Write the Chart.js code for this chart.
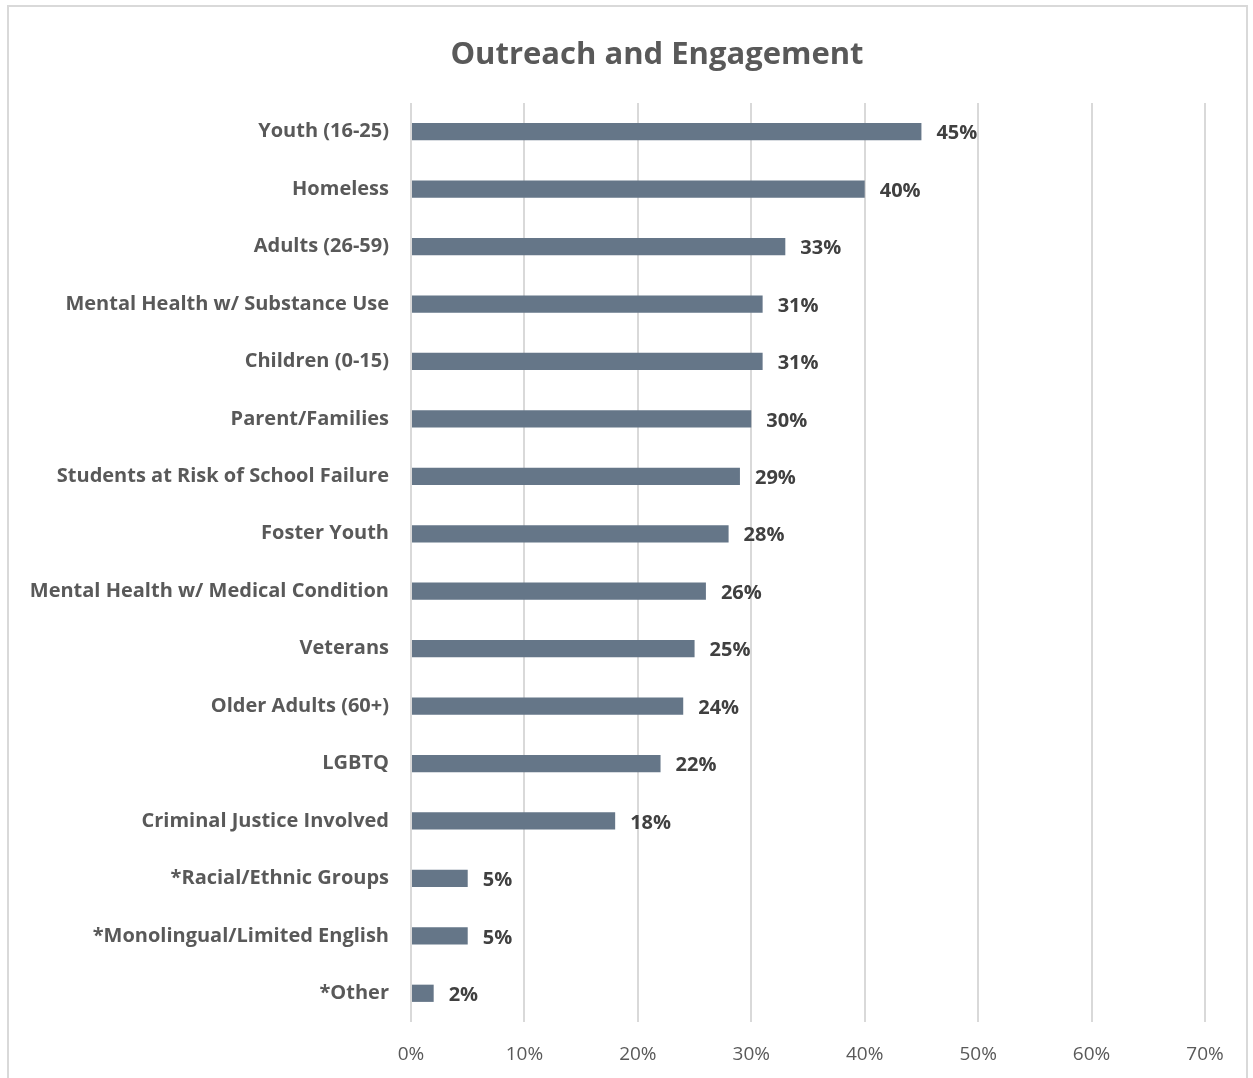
<!DOCTYPE html>
<html>
<head>
<meta charset="utf-8">
<script src="https://cdn.jsdelivr.net/npm/chart.js@4.4.1/dist/chart.umd.min.js"></script>
<style>
  html, body { margin: 0; padding: 0; background: #ffffff; overflow: hidden; }
  #wrap { position: relative; width: 1253px; height: 1078px; }
  #frame { position: absolute; left: 7px; top: 5px; width: 1241px; height: 1100px;
           border: 2px solid #d9d9d9; box-sizing: border-box; }
  canvas { position: absolute; left: 0; top: 0; }
</style>
</head>
<body>
<div id="wrap">
  <div id="frame"></div>
  <canvas id="chart" width="1253" height="1078"></canvas>
</div>
<script>
const chartTitle = 'Outreach and Engagement';
const categories = [
  'Youth (16-25)',
  'Homeless',
  'Adults (26-59)',
  'Mental Health w/ Substance Use',
  'Children (0-15)',
  'Parent/Families',
  'Students at Risk of School Failure',
  'Foster Youth',
  'Mental Health w/ Medical Condition',
  'Veterans',
  'Older Adults (60+)',
  'LGBTQ',
  'Criminal Justice Involved',
  '*Racial/Ethnic Groups',
  '*Monolingual/Limited English',
  '*Other'
];
const percentValues = [45, 40, 33, 31, 31, 30, 29, 28, 26, 25, 24, 22, 18, 5, 5, 2];
const axisTicks = [0, 10, 20, 30, 40, 50, 60, 70];

const FONT = '"Open Sans", Lato, sans-serif';

// Draws the chart heading centred over the plot
const headingPlugin = {
  id: 'heading',
  afterDraw(chart) {
    const ctx = chart.ctx;
    ctx.save();
    ctx.font = 'bold 31px ' + FONT;
    ctx.fillStyle = '#595959';
    ctx.textAlign = 'center';
    ctx.textBaseline = 'middle';
    ctx.fillText(chartTitle, 657, 55);
    ctx.restore();
  }
};

// Writes each bar's percentage just past its end
const valueLabelPlugin = {
  id: 'valueLabels',
  afterDatasetsDraw(chart) {
    const ctx = chart.ctx;
    const meta = chart.getDatasetMeta(0);
    ctx.save();
    ctx.font = 'bold 20px ' + FONT;
    ctx.fillStyle = '#404040';
    ctx.textAlign = 'left';
    ctx.textBaseline = 'middle';
    meta.data.forEach((bar, i) => {
      ctx.fillText(percentValues[i] + '%', bar.x + 15, bar.y + 2);
    });
    ctx.restore();
  }
};

new Chart(document.getElementById('chart'), {
  type: 'bar',
  data: {
    labels: categories,
    datasets: [{
      data: percentValues,
      backgroundColor: '#657688',
      borderWidth: 0,
      categoryPercentage: 1.0,
      barPercentage: 0.3
    }]
  },
  options: {
    indexAxis: 'y',
    responsive: false,
    animation: false,
    devicePixelRatio: 1,
    layout: { padding: { top: 103, right: 48, left: 0, bottom: 0 } },
    plugins: {
      legend: { display: false },
      tooltip: { enabled: false },
      title: { display: false }
    },
    scales: {
      x: {
        type: 'linear',
        min: 0,
        max: 70,
        afterBuildTicks(scale) {
          scale.ticks = axisTicks.map(v => ({ value: v }));
        },
        afterFit(scale) { scale.height = 56; },
        border: { display: false },
        grid: { color: '#d9d9d9', lineWidth: 2, drawTicks: false },
        ticks: {
          padding: 21,
          color: '#595959',
          font: { family: FONT, size: 19 },
          callback: v => v + '%'
        }
      },
      y: {
        afterFit(scale) { scale.width = 411; },
        border: { display: false },
        grid: { display: false, drawTicks: false },
        ticks: {
          padding: 22,
          color: '#595959',
          font: { family: FONT, size: 20, weight: 'bold' }
        }
      }
    }
  },
  plugins: [headingPlugin, valueLabelPlugin]
});
</script>
</body>
</html>
